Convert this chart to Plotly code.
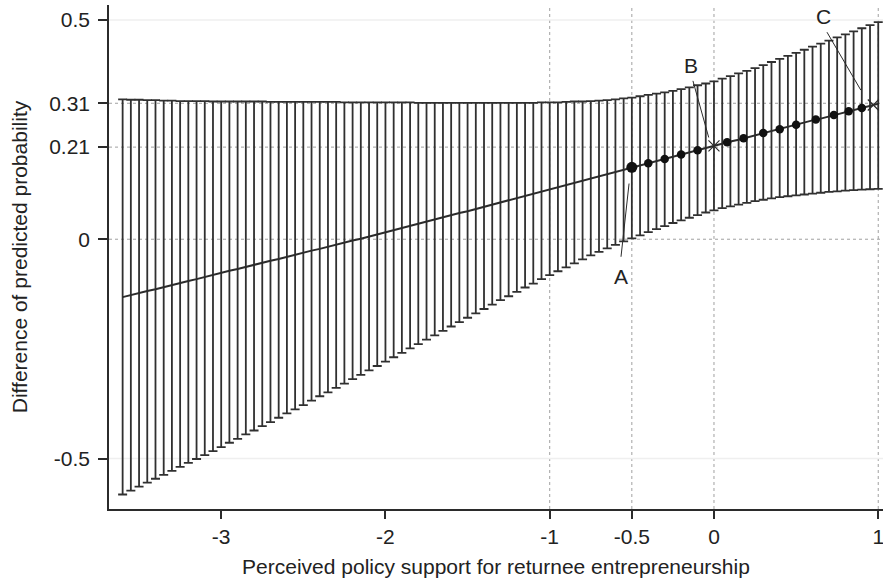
import plotly.graph_objects as go

# ---------------- data ----------------
support = [-3.60, -3.55, -3.50, -3.45, -3.40, -3.35, -3.30, -3.25, -3.20, -3.15,
           -3.10, -3.05, -3.00, -2.95, -2.90, -2.85, -2.80, -2.75, -2.70, -2.65,
           -2.60, -2.55, -2.50, -2.45, -2.40, -2.35, -2.30, -2.25, -2.20, -2.15,
           -2.10, -2.05, -2.00, -1.95, -1.90, -1.85, -1.80, -1.75, -1.70, -1.65,
           -1.60, -1.55, -1.50, -1.45, -1.40, -1.35, -1.30, -1.25, -1.20, -1.15,
           -1.10, -1.05, -1.00, -0.95, -0.90, -0.85, -0.80, -0.75, -0.70, -0.65,
           -0.60, -0.55, -0.50, -0.45, -0.40, -0.35, -0.30, -0.25, -0.20, -0.15,
           -0.10, -0.05, 0.00, 0.05, 0.10, 0.15, 0.20, 0.25, 0.30, 0.35,
           0.40, 0.45, 0.50, 0.55, 0.60, 0.65, 0.70, 0.75, 0.80, 0.85,
           0.90, 0.95, 1.00]

diff_prob = [-0.132, -0.127, -0.123, -0.118, -0.114, -0.109, -0.104, -0.100, -0.095, -0.091,
             -0.086, -0.081, -0.077, -0.072, -0.068, -0.063, -0.058, -0.054, -0.049, -0.045,
             -0.040, -0.035, -0.031, -0.026, -0.022, -0.017, -0.012, -0.008, -0.003, 0.001,
             0.006, 0.010, 0.015, 0.020, 0.025, 0.030, 0.035, 0.040, 0.045, 0.050,
             0.055, 0.060, 0.064, 0.069, 0.074, 0.079, 0.084, 0.089, 0.094, 0.099,
             0.104, 0.109, 0.114, 0.119, 0.124, 0.129, 0.134, 0.139, 0.144, 0.149,
             0.154, 0.159, 0.164, 0.168, 0.173, 0.178, 0.183, 0.188, 0.193, 0.198,
             0.203, 0.208, 0.213, 0.218, 0.223, 0.227, 0.232, 0.237, 0.242, 0.247,
             0.251, 0.256, 0.261, 0.266, 0.271, 0.275, 0.280, 0.285, 0.290, 0.295,
             0.299, 0.304, 0.309]

upper_ci = [0.319, 0.318, 0.318, 0.317, 0.317, 0.316, 0.316, 0.315, 0.315, 0.315,
            0.315, 0.314, 0.314, 0.314, 0.314, 0.314, 0.314, 0.314, 0.313, 0.313,
            0.313, 0.313, 0.313, 0.313, 0.313, 0.313, 0.313, 0.312, 0.312, 0.312,
            0.312, 0.312, 0.312, 0.312, 0.312, 0.312, 0.311, 0.311, 0.311, 0.311,
            0.311, 0.311, 0.311, 0.311, 0.311, 0.311, 0.311, 0.311, 0.311, 0.311,
            0.311, 0.312, 0.312, 0.312, 0.313, 0.314, 0.314, 0.315, 0.316, 0.317,
            0.319, 0.321, 0.323, 0.326, 0.329, 0.332, 0.335, 0.338, 0.342, 0.346,
            0.351, 0.355, 0.360, 0.366, 0.372, 0.378, 0.384, 0.390, 0.397, 0.404,
            0.411, 0.418, 0.425, 0.432, 0.439, 0.446, 0.453, 0.460, 0.467, 0.474,
            0.481, 0.488, 0.495]

lower_ci = [-0.582, -0.573, -0.564, -0.555, -0.546, -0.537, -0.528, -0.519, -0.510, -0.501,
            -0.492, -0.483, -0.474, -0.464, -0.455, -0.445, -0.436, -0.426, -0.417, -0.407,
            -0.397, -0.388, -0.378, -0.368, -0.358, -0.349, -0.339, -0.329, -0.319, -0.309,
            -0.299, -0.289, -0.279, -0.269, -0.259, -0.249, -0.239, -0.229, -0.219, -0.209,
            -0.199, -0.189, -0.179, -0.169, -0.159, -0.149, -0.139, -0.130, -0.120, -0.110,
            -0.101, -0.091, -0.082, -0.073, -0.064, -0.055, -0.046, -0.037, -0.029, -0.021,
            -0.013, -0.005, 0.002, 0.009, 0.016, 0.023, 0.030, 0.037, 0.043, 0.049,
            0.055, 0.061, 0.066, 0.071, 0.075, 0.079, 0.083, 0.087, 0.090, 0.093,
            0.096, 0.098, 0.100, 0.102, 0.104, 0.106, 0.108, 0.109, 0.111, 0.112,
            0.113, 0.114, 0.115]

# observed points marked on the line
dot_x = [-0.40, -0.30, -0.20, -0.10, 0.08, 0.18, 0.30, 0.40, 0.50, 0.62, 0.73, 0.82, 0.90]
dot_y = [0.173, 0.183, 0.193, 0.203, 0.221, 0.230, 0.242, 0.251, 0.261, 0.273, 0.283, 0.292, 0.299]
point_a_x, point_a_y = [-0.50], [0.164]
cross_x = [0.00, 0.97]
cross_y = [0.213, 0.306]

# labels A, B, C and their leader lines
label_text = ["A", "B", "C"]
label_x = [-0.566, -0.140, 0.665]
label_y = [-0.084, 0.397, 0.507]
leader_x0 = [-0.566, -0.128, 0.688]
leader_y0 = [-0.040, 0.361, 0.472]
leader_x1 = [-0.517, -0.032, 0.894]
leader_y1 = [0.127, 0.232, 0.340]

x_ticks = [-3, -2, -1, -0.5, 0, 1]
x_ticktext = ["-3", "-2", "-1", "-0.5", "0", "1"]
y_ticks = [-0.5, 0, 0.21, 0.31, 0.5]
y_ticktext = ["-0.5", "0", "0.21", "0.31", "0.5"]
x_dotted = [-1, -0.5, 0, 1]
y_dotted = [0, 0.21, 0.31]
y_faint = [-0.5, 0.5]

# ---------------- figure ----------------
INK = "#2b2b2b"
FONT = "Liberation Sans, Arial, Helvetica, sans-serif"

err_plus = [u - c for u, c in zip(upper_ci, diff_prob)]
err_minus = [c - l for c, l in zip(diff_prob, lower_ci)]

fig = go.Figure()
fig.add_trace(go.Scatter(
    x=support, y=diff_prob, mode="lines",
    line=dict(color=INK, width=2),
    error_y=dict(type="data", symmetric=False, array=err_plus, arrayminus=err_minus,
                 color="#303030", thickness=1.8, width=4.5),
    hoverinfo="skip", showlegend=False))

fig.add_trace(go.Scatter(
    x=dot_x, y=dot_y, mode="markers",
    marker=dict(color="#111111", size=8.5, symbol="circle"),
    showlegend=False))
fig.add_trace(go.Scatter(
    x=point_a_x, y=point_a_y, mode="markers",
    marker=dict(color="#111111", size=11, symbol="circle"),
    showlegend=False))
fig.add_trace(go.Scatter(
    x=cross_x, y=cross_y, mode="markers",
    marker=dict(color=INK, size=11, symbol="x-thin", line=dict(color=INK, width=1.2)),
    showlegend=False))

for x0, y0, x1, y1 in zip(leader_x0, leader_y0, leader_x1, leader_y1):
    fig.add_trace(go.Scatter(x=[x0, x1], y=[y0, y1], mode="lines",
                             line=dict(color=INK, width=1), showlegend=False,
                             hoverinfo="skip"))

for t, x, y in zip(label_text, label_x, label_y):
    fig.add_annotation(x=x, y=y, text=t, showarrow=False,
                       font=dict(family=FONT, size=21, color="#222222"))

shapes = []
for xv in x_dotted:
    shapes.append(dict(type="line", xref="x", yref="paper", x0=xv, x1=xv, y0=0, y1=1,
                       line=dict(color="#a0a0a0", width=1, dash="dot"), layer="below"))
for yv in y_dotted:
    shapes.append(dict(type="line", xref="paper", yref="y", x0=0, x1=1, y0=yv, y1=yv,
                       line=dict(color="#a0a0a0", width=1, dash="dot"), layer="below"))
for yv in y_faint:
    shapes.append(dict(type="line", xref="paper", yref="y", x0=0, x1=1, y0=yv, y1=yv,
                       line=dict(color="#efefef", width=1.5), layer="below"))

fig.update_layout(
    width=883, height=581,
    margin=dict(l=109, r=0, t=5, b=72, autoexpand=False),
    paper_bgcolor="white", plot_bgcolor="white",
    font=dict(family=FONT, size=21, color="#222222"),
    shapes=shapes,
    showlegend=False,
    xaxis=dict(range=[-3.683, 1.029], tickvals=x_ticks, ticktext=x_ticktext,
               showgrid=False, zeroline=False, showline=True, linecolor=INK, linewidth=1.5,
               ticks="outside", ticklen=8, tickwidth=1.5, tickcolor=INK,
               tickfont=dict(size=21), automargin=False, ticklabeloverflow="allow",
               title=dict(text="Perceived policy support for returnee entrepreneurship",
                          font=dict(size=21), standoff=12)),
    yaxis=dict(range=[-0.615, 0.534], tickvals=y_ticks, ticktext=y_ticktext,
               showgrid=False, zeroline=False, showline=True, linecolor=INK, linewidth=1.5,
               ticks="outside", ticklen=9, tickwidth=1.5, tickcolor=INK,
               tickfont=dict(size=21), ticklabelstandoff=4, automargin=False,
               title=dict(text="Difference of predicted probability",
                          font=dict(size=21), standoff=16)),
)

fig.write_html("out.html", config={"displayModeBar": False},
               post_script="document.body.style.margin='0px';")
